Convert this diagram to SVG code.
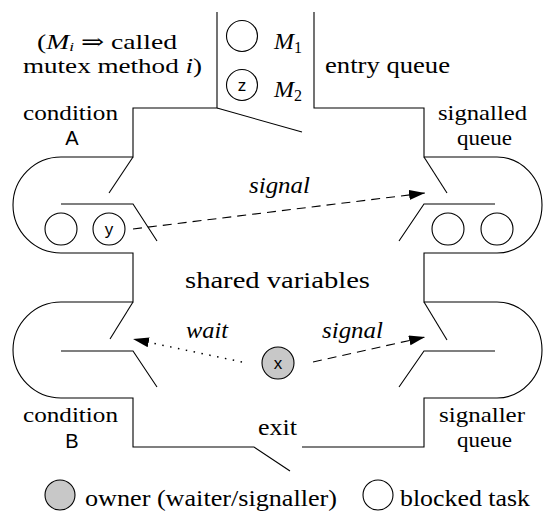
<svg xmlns="http://www.w3.org/2000/svg" width="545" height="512" viewBox="0 0 545 512">
<style>
.ln{fill:none;stroke:#000;stroke-width:1.1}
.sc{font-family:'Liberation Sans',Arial,sans-serif;font-size:17px;fill:#000;text-anchor:middle;dominant-baseline:central}
.sf{font-family:'Liberation Sans',Arial,sans-serif;font-size:20px;fill:#000;text-anchor:middle}
.task{fill:#fff;stroke:#000;stroke-width:1.1}
.own{fill:#c8c8c8;stroke:#000;stroke-width:1.1}
.dash{fill:none;stroke:#000;stroke-width:1.1;stroke-dasharray:9 6}
.dot{fill:none;stroke:#000;stroke-width:1.5;stroke-dasharray:1.5 6.5}
.lab{font-size:21px}
</style>
<defs>
<marker id="ah" markerUnits="userSpaceOnUse" markerWidth="18" markerHeight="12" refX="16" refY="5" orient="auto">
<path d="M0,0 L16,5 L0,10 Z" fill="#000"/>
</marker>
</defs>
<g font-family="Liberation Serif, Tinos, Times New Roman, DejaVu Serif, serif" font-size="24" fill="#000">
<g id="monitor">
<path class="ln" d="M217,12 V108 H133 V157 H61 A48 48 0 0 0 61,253 H133 V302 H61 A48 48 0 0 0 61,398 H133 V447 H254 L290,471"/>
<path class="ln" d="M302,447 H424 V398 H497 A45 48 0 0 0 497,302 H424 V253 H497 A45 48 0 0 0 497,157 H424 V108 H314 V12"/>
<path class="ln" d="M217,108 L302,132"/>
</g>
<g id="entry-queue">
<circle class="task" cx="242" cy="36" r="15.5"/>
<circle class="task" cx="242" cy="85" r="15.5"/>
<text class="sc" x="242" y="85">z</text>
<text x="274" y="49" font-style="italic">M<tspan font-size="16" font-style="normal" dy="4">1</tspan></text>
<text x="274" y="97" font-style="italic">M<tspan font-size="16" font-style="normal" dy="4">2</tspan></text>
<text x="325" y="73" textLength="125" lengthAdjust="spacingAndGlyphs">entry queue</text>
</g>
<g id="note" font-size="21">
<text x="37" y="49" textLength="140" lengthAdjust="spacingAndGlyphs">(<tspan font-style="italic">M</tspan><tspan font-style="italic" font-size="13" dy="2">i</tspan><tspan dy="-2"> ⇒ called</tspan></text>
<text x="23" y="73" textLength="179" lengthAdjust="spacingAndGlyphs">mutex method <tspan font-style="italic">i</tspan>)</text>
</g>
<g id="condition-A">
<path class="ln" d="M133,157 L109,193"/>
<path class="ln" d="M61,204 H133 L157,241"/>
<circle class="task" cx="61" cy="229" r="16"/>
<circle class="task" cx="109" cy="229" r="16"/>
<text class="sc" x="109" y="229">y</text>
<text class="lab" x="23" y="120" textLength="95" lengthAdjust="spacingAndGlyphs">condition</text>
<text class="sf" x="72" y="145">A</text>
</g>
<g id="signalled-queue">
<path class="ln" d="M424,157 L447,193"/>
<path class="ln" d="M495,204 H424 L399,241"/>
<circle class="task" cx="448" cy="229" r="16"/>
<circle class="task" cx="497" cy="229" r="16"/>
<text class="lab" x="438" y="120" textLength="89" lengthAdjust="spacingAndGlyphs">signalled</text>
<text class="lab" x="457" y="145" textLength="55" lengthAdjust="spacingAndGlyphs">queue</text>
</g>
<g id="condition-B">
<path class="ln" d="M133,302 L110,339"/>
<path class="ln" d="M61,351 H133 L157,387"/>
<text class="lab" x="23" y="422" textLength="95" lengthAdjust="spacingAndGlyphs">condition</text>
<text class="sf" x="72" y="448">B</text>
</g>
<g id="signaller-queue">
<path class="ln" d="M424,302 L447,340"/>
<path class="ln" d="M495,351 H424 L399,387"/>
<text class="lab" x="439" y="422" textLength="86" lengthAdjust="spacingAndGlyphs">signaller</text>
<text class="lab" x="457" y="447" textLength="55" lengthAdjust="spacingAndGlyphs">queue</text>
</g>
<g id="shared">
<text x="185" y="288" textLength="185" lengthAdjust="spacingAndGlyphs">shared variables</text>
<text x="258" y="435" textLength="39" lengthAdjust="spacingAndGlyphs">exit</text>
</g>
<g id="owner">
<circle class="own" cx="278" cy="363" r="16"/>
<text class="sc" x="278" y="363">x</text>
</g>
<g id="connectors">
<line class="dash" x1="133" y1="229" x2="425" y2="193" marker-end="url(#ah)"/>
<line class="dot" x1="242" y1="362" x2="133" y2="339" marker-end="url(#ah)"/>
<line class="dash" x1="313" y1="362" x2="425" y2="337" marker-end="url(#ah)"/>
<text x="249" y="193" font-style="italic" textLength="61" lengthAdjust="spacingAndGlyphs">signal</text>
<text x="186" y="338" font-style="italic" textLength="42" lengthAdjust="spacingAndGlyphs">wait</text>
<text x="322" y="338" font-style="italic" textLength="61" lengthAdjust="spacingAndGlyphs">signal</text>
</g>
<g id="legend">
<circle class="own" cx="60" cy="495" r="15"/>
<text x="85" y="506" textLength="252" lengthAdjust="spacingAndGlyphs">owner (waiter/signaller)</text>
<circle class="task" cx="378" cy="495" r="15"/>
<text x="400" y="506" textLength="130" lengthAdjust="spacingAndGlyphs">blocked task</text>
</g>
</g>
</svg>
